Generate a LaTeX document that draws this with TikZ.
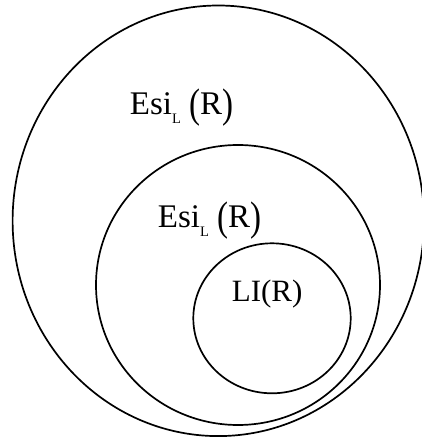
\documentclass[tikz,border=0pt]{standalone}
\usepackage{fontspec}
\usepackage{graphicx}
\setmainfont{Liberation Serif}
\newcommand{\bigpar}[1]{\raisebox{-0.07em}{\scalebox{1}[1.25]{#1}}}
\newcommand{\esiL}{Esi\raisebox{-0.25em}{\fontsize{14.5}{14.5}\selectfont L}\hspace{0.25em}\bigpar{(}R\bigpar{)}}

\begin{document}
\begin{tikzpicture}[x=1pt,y=1pt,line width=1.7pt]
  \useasboundingbox (0,0) rectangle (422,439);
  \draw (218.3,218.2) ellipse [x radius=205.7,y radius=215.3];
  \draw (238,154) ellipse [x radius=142,y radius=140];
  \draw (272,120.7) ellipse [x radius=78.7,y radius=75];
  \node[anchor=base west,font=\fontsize{33}{33}\selectfont,inner sep=0] (esiA) at (129,324) {\esiL};
  \node[anchor=base west,font=\fontsize{33}{33}\selectfont,inner sep=0] (esiB) at (157,211) {\esiL};
  \node[anchor=base west,font=\fontsize{31}{31}\selectfont,inner sep=0] (li) at (231,137) {LI(R)};
\end{tikzpicture}
\end{document}
